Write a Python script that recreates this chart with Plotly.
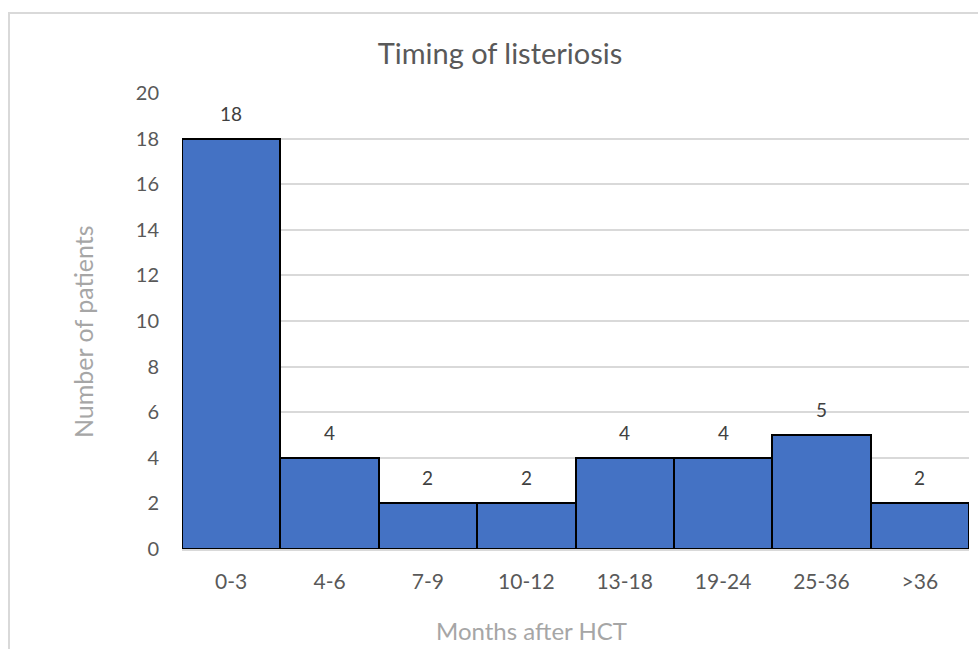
import plotly.graph_objects as go

categories = ["0-3", "4-6", "7-9", "10-12", "13-18", "19-24", "25-36", ">36"]
patients = [18, 4, 2, 2, 4, 4, 5, 2]
y_ticks = [0, 2, 4, 6, 8, 10, 12, 14, 16, 18, 20]

FONT = "Lato, 'Open Sans', sans-serif"

fig = go.Figure()
fig.add_trace(go.Bar(
    x=categories, y=patients,
    marker=dict(color="#4472C4", line=dict(color="#000000", width=2)),
    hoverinfo="x+y",
))

for c, v in zip(categories, patients):
    fig.add_annotation(x=c, y=v, text=str(v), showarrow=False,
                       yanchor="bottom", yshift=12,
                       font=dict(family=FONT, size=19, color="#404040"))

fig.update_layout(
    width=978, height=649,
    margin=dict(l=182, r=9, t=93, b=100),
    paper_bgcolor="white", plot_bgcolor="white",
    bargap=0,
    showlegend=False,
    title=dict(text="Timing of listeriosis", x=500/978, xanchor="center",
               y=1 - 54/649, yanchor="middle",
               font=dict(family=FONT, size=29, color="#595959")),
    xaxis=dict(
        type="category",
        showgrid=False, showline=True, linecolor="#D9D9D9", linewidth=2,
        ticks="", tickfont=dict(family=FONT, size=21, color="#595959"),
        ticklabelstandoff=13,
    ),
    yaxis=dict(
        range=[0, 20], tickvals=y_ticks, showgrid=True, gridcolor="#D9D9D9",
        gridwidth=1.5, zeroline=False, showline=False, ticks="",
        tickfont=dict(family=FONT, size=20, color="#595959"),
        ticklabelstandoff=22,
    ),
)

fig.add_annotation(text="Months after HCT", xref="paper", yref="paper",
                   x=(531 - 182) / 787, y=(549 - 647) / 456, showarrow=False,
                   xanchor="center", yanchor="bottom",
                   font=dict(family=FONT, size=24, color="#A6A6A6"))
fig.add_annotation(text="Number of patients", xref="paper", yref="paper",
                   x=(83 - 182) / 787, y=(549 - 332) / 456, showarrow=False,
                   textangle=-90, xanchor="center", yanchor="middle",
                   font=dict(family=FONT, size=25, color="#A6A6A6"))

fig.add_shape(type="rect", xref="paper", yref="paper",
              x0=(9 - 182) / 787, x1=(995 - 182) / 787,
              y0=(549 - 670) / 456, y1=(549 - 13) / 456,
              line=dict(color="#D9D9D9", width=2), layer="below")

fig.write_html("out.html", config={"displayModeBar": False},
               post_script="document.body.style.margin='0';document.body.style.overflow='hidden';")
